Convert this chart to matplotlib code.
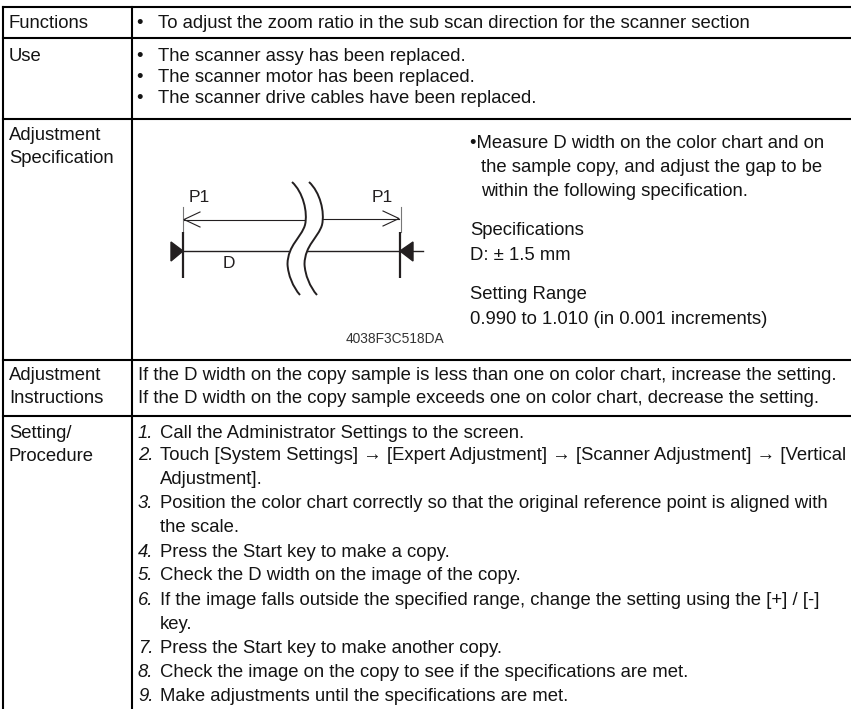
import matplotlib
matplotlib.use("Agg")
import matplotlib.pyplot as plt
from matplotlib.path import Path
from matplotlib.patches import PathPatch

plt.rcParams['font.family'] = ['Liberation Sans', 'DejaVu Sans']

W, H = 851, 709
FS = 13.37
TEXT = '#141414'
BASE = 6  # visual centre of a line to its baseline

row_lines = [7, 38, 119, 360, 416]
col_left, col_mid = 3, 132

row_labels = [
    (22, "Functions"), (55, "Use"),
    (134, "Adjustment"), (157, "Specification"),
    (374, "Adjustment"), (397, "Instructions"),
    (432, "Setting/"), (455, "Procedure"),
]

bullets = [
    (22, "To adjust the zoom ratio in the sub scan direction for the scanner section"),
    (55, "The scanner assy has been replaced."),
    (76, "The scanner motor has been replaced."),
    (97, "The scanner drive cables have been replaced."),
]

spec_text = [
    (142, 470, "\u2022Measure D width on the color chart and on"),
    (166, 481, "the sample copy, and adjust the gap to be"),
    (190, 481, "within the following specification."),
    (229, 470, "Specifications"),
    (254, 470, "D: \u00b1 1.5 mm"),
    (293, 470, "Setting Range"),
    (318, 470, "0.990 to 1.010 (in 0.001 increments)"),
]

instructions = [
    (374, "If the D width on the copy sample is less than one on color chart, increase the setting."),
    (397, "If the D width on the copy sample exceeds one on color chart, decrease the setting."),
]

steps = [
    (432, "1.", "Call the Administrator Settings to the screen."),
    (454, "2.", "Touch [System Settings] \u2192 [Expert Adjustment] \u2192 [Scanner Adjustment] \u2192 [Vertical"),
    (478, None, "Adjustment]."),
    (502, "3.", "Position the color chart correctly so that the original reference point is aligned with"),
    (526, None, "the scale."),
    (551, "4.", "Press the Start key to make a copy."),
    (574, "5.", "Check the D width on the image of the copy."),
    (599, "6.", "If the image falls outside the specified range, change the setting using the [+] / [-]"),
    (623, None, "key."),
    (647, "7.", "Press the Start key to make another copy."),
    (671, "8.", "Check the image on the copy to see if the specifications are met."),
    (695, "9.", "Make adjustments until the specifications are met."),
]

fig = plt.figure(figsize=(W / 100, H / 100), dpi=100)
ax = fig.add_axes([0, 0, 1, 1])
ax.set_xlim(0, W)
ax.set_ylim(H, 0)
ax.axis('off')

# table grid, cut off by the page on the right and at the bottom
for y in row_lines:
    ax.plot([col_left, W + 5], [y, y], color='black', lw=1.5, solid_capstyle='projecting')
for x in (col_left, col_mid):
    ax.plot([x, x], [row_lines[0], H + 5], color='black', lw=1.5, solid_capstyle='projecting')

def put(x, y, s, **kw):
    ax.text(x, y + BASE, s, fontsize=FS, va='baseline', ha='left', color=TEXT, **kw)

for y, s in row_labels:
    put(9, y, s)
for y, s in bullets:
    put(136, y, "\u2022")
    put(158, y, s)
for y, x, s in spec_text:
    put(x, y, s)
for y, s in instructions:
    put(138, y, s)
for y, num, s in steps:
    if num:
        put(138, y, num, style='italic')
    put(160, y, s)

# diagram
dark = '#231f20'
ax.text(199, 198, "P1", fontsize=12.5, ha='center', va='center', color=dark)
ax.text(382, 197, "P1", fontsize=12.5, ha='center', va='center', color=dark)
ax.text(229, 264, "D", fontsize=12.5, ha='center', va='center', color=dark)
ax.text(346, 339, "4038F3C518DA", fontsize=9.9, ha='left', va='center', color='#333333')

# extension lines
ax.plot([183, 183], [207, 232], color='#777777', lw=0.8)
ax.plot([401, 401], [207, 232], color='#777777', lw=0.8)
# dimension bars
ax.plot([183, 183], [232, 278], color=dark, lw=1.6, solid_capstyle='butt')
ax.plot([400, 400], [232, 278], color=dark, lw=1.6, solid_capstyle='butt')
# P1 arrow line
ax.plot([184, 305], [219.5, 219.5], color=dark, lw=0.8)
ax.plot([323, 399], [218.5, 218.5], color=dark, lw=0.8)
ax.plot([200, 184, 200], [212, 219.5, 227], color=dark, lw=0.8)
ax.plot([383, 399, 383], [211, 218.5, 226], color=dark, lw=0.8)
# D line
ax.plot([183, 288], [251, 251], color=dark, lw=1)
ax.plot([307, 423], [251, 251], color=dark, lw=1)
# end triangles
ax.fill([171, 183, 171], [242, 251, 261], color=dark)
ax.fill([413, 400, 413], [242, 251, 261], color=dark)

# break curves
for dx in (0, 17):
    verts = [(292 + dx, 182),
             (303 + dx, 192), (308 + dx, 212), (305 + dx, 225),
             (301 + dx, 238), (288 + dx, 245), (287.5 + dx, 264),
             (288 + dx, 275), (293 + dx, 287), (300 + dx, 295)]
    codes = [Path.MOVETO] + [Path.CURVE4] * 9
    ax.add_patch(PathPatch(Path(verts, codes), fill=False, edgecolor=dark, lw=1.4))

fig.savefig("out.png", dpi=100)
